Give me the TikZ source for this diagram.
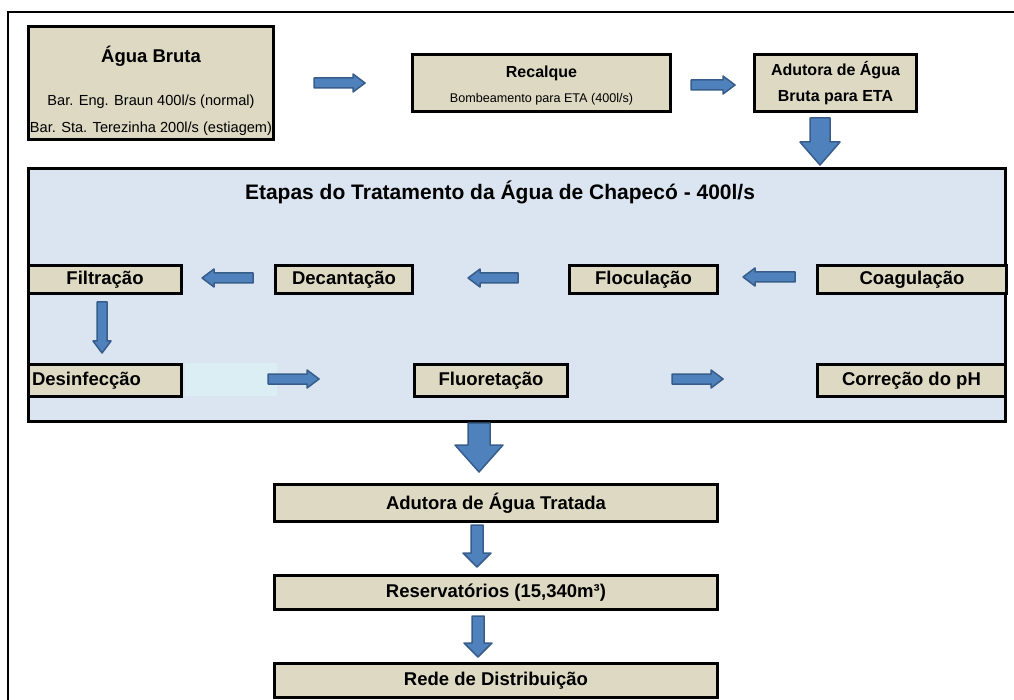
\documentclass[tikz,border=0pt]{standalone}
\usepackage{fontspec}
\setmainfont{Liberation Sans}
\usetikzlibrary{positioning}
\definecolor{tanbox}{HTML}{DDD9C3}
\definecolor{etablue}{HTML}{DBE5F1}
\definecolor{paleaqua}{HTML}{DAEEF3}
\definecolor{arrowfill}{HTML}{4F81BD}
\definecolor{arrowedge}{HTML}{385D8A}

\begin{document}
\begin{tikzpicture}[x=1pt, y=-1pt,
  stage/.style={draw, line width=3pt, fill=tanbox, inner sep=0pt, font=\bfseries\fontsize{18.5}{22}\selectfont},
  head/.style={font=\bfseries\fontsize{16}{26}\selectfont, align=center},
  sub/.style={font=\fontsize{#1}{#1}\selectfont},
  flow/.style={fill=arrowfill, draw=arrowedge, line width=1.5pt, line join=round},
  pics/blk/.style args={#1/#2/#3/#4}{code={
    \draw[flow] (0,-#2) -- (#1-#4,-#2) -- (#1-#4,-#3) -- (#1,0) -- (#1-#4,#3) -- (#1-#4,#2) -- (0,#2) -- cycle;}}]

  \useasboundingbox (0,0) rectangle (1014,700);
  \draw[line width=2pt] (8,700) -- (8,12) -- (1014,12);

  % captacao e recalque
  \node[stage, minimum width=245, minimum height=113] (agua) at (151,83) {};
  \node[font=\bfseries\fontsize{18.5}{22}\selectfont, anchor=base] (aguaT) at (151,63) {Água Bruta};
  \node[sub=14.6, anchor=base] (aguaA) at (151,106) {Bar. Eng. Braun 400l/s (normal)};
  \node[sub=14.6, anchor=base] (aguaB) at (151,133) {Bar. Sta. Terezinha 200l/s (estiagem)};

  \node[stage, minimum width=258, minimum height=57] (recalque) at (541.5,83) {};
  \node[head, anchor=base] (recalqueT) at (541.5,78) {Recalque};
  \node[sub=12.6, anchor=base] (recalqueA) at (541.5,103) {Bombeamento para ETA (400l/s)};

  \node[stage, head, minimum width=162, minimum height=57] (adbruta) at (835.5,83) {Adutora de Água\\Bruta para ETA};

  \pic at (314,83) {blk=51/5/9/12};
  \pic at (691,85) {blk=44/5/9/12};
  \pic[rotate=-90] at (820,118) {blk=47/10/20/23};

  % ETA
  \node[draw, line width=3pt, fill=etablue, inner sep=0pt, minimum width=977, minimum height=253] (eta) at (517,295) {};
  \node[font=\bfseries\fontsize{21}{24}\selectfont, anchor=base] (etaT) at (500,200) {Etapas do Tratamento da Água de Chapecó - 400l/s};

  \foreach \n/\x/\w/\t in {filt/105/153/Filtração, dec/344/137/Decantação, floc/643.5/148/Floculação, coag/912/189/Coagulação}
    \node[stage, minimum width=\w, minimum height=28] (\n) at (\x,279.5) {\t};

  \node[stage, minimum width=153, minimum height=32, text width=146, align=left, inner xsep=3] (desinf) at (105,380.5) {Desinfecção};
  \fill[paleaqua] ([xshift=1.5]desinf.north east) rectangle ++(92,33);
  \node[stage, minimum width=153, minimum height=32] (fluor) at (491,380.5) {Fluoretação};
  \node[stage, minimum width=188, minimum height=32] (corr) at (911.5,380.5) {Correção do pH};

  \foreach \x/\y/\l in {253/278/51, 518/278/50, 795/277/52}
    \pic[rotate=180] at (\x,\y) {blk=\l/5/9/12};
  \pic[rotate=-90] at (102,302) {blk=51/5/9/12};
  \foreach \x/\y in {268/379, 672/379}
    \pic at (\x,\y) {blk=51/5/9/12};

  % distribuicao
  \pic[rotate=-90] at (479,423) {blk=49/11/24/27};
  \foreach \n/\y/\h/\t in {adtrat/503/37/Adutora de Água Tratada, reserv/592.5/34/{Reservatórios (15,340m³)}, rede/680.5/34/Rede de Distribuição}
    \node[stage, minimum width=443, minimum height=\h] (\n) at (496,\y) {\t};
  \pic[rotate=-90] at (477,525) {blk=42/6/14/14};
  \pic[rotate=-90] at (478,616) {blk=41/6/14/14};

\end{tikzpicture}
\end{document}
